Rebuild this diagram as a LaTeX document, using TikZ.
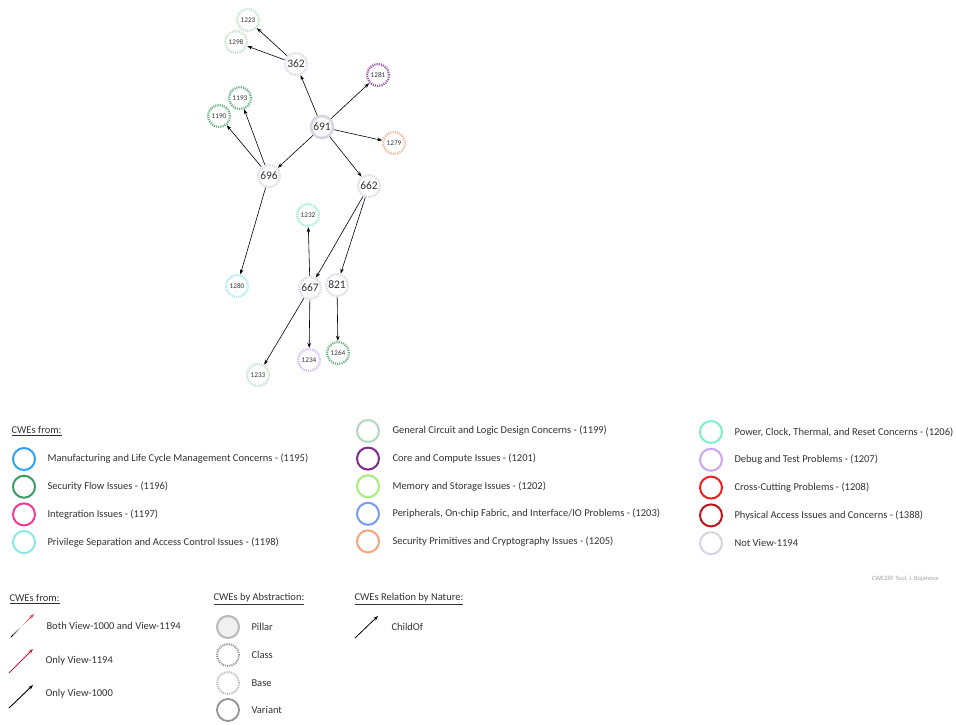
\documentclass[tikz,border=0pt]{standalone}
\usepackage{fontspec}
\setmainfont{Carlito}
\usepackage{tikz}
\usetikzlibrary{arrows.meta,positioning,calc}
% view-1194 category colours
\definecolor{cwe1195}{HTML}{2EA3F2}
\definecolor{cwe1196}{HTML}{3F9C64}
\definecolor{cwe1197}{HTML}{F03A98}
\definecolor{cwe1198}{HTML}{8CE6E6}
\definecolor{cwe1199}{HTML}{B2D8C0}
\definecolor{cwe1201}{HTML}{7E2A8E}
\definecolor{cwe1202}{HTML}{A4EE7C}
\definecolor{cwe1203}{HTML}{789CF2}
\definecolor{cwe1205}{HTML}{F4A47C}
\definecolor{cwe1206}{HTML}{7EEECC}
\definecolor{cwe1207}{HTML}{C8A6F2}
\definecolor{cwe1208}{HTML}{F01E1E}
\definecolor{cwe1388}{HTML}{BE161C}
\definecolor{notview}{HTML}{D6D6E0}
\definecolor{txtgray}{HTML}{333333}
\definecolor{view1194}{HTML}{C8203C}

\begin{document}
\begin{tikzpicture}[
    x=1pt,
    y=-1pt,
    font=\fontsize{10.5}{12}\selectfont,
    text=txtgray,
    cwe/.style={circle, minimum size=22pt, inner sep=0pt, fill=white},
    pillar/.style={cwe, draw=notview, line width=2.6pt, fill=gray!3, font=\fontsize{11.5}{12}\selectfont},
    classnode/.style={cwe, draw=#1, line width=2.2pt, dash pattern=on 1.1pt off 1.1pt, font=\fontsize{11.5}{12}\selectfont},
    basenode/.style={cwe, draw=#1!80!white, line width=2.2pt, dash pattern=on 1.1pt off 1.1pt, font=\fontsize{7.2}{8}\selectfont},
    childof/.style={-{Stealth[length=5pt,width=3.6pt]}, line width=0.6pt, black},
    ring/.style={circle, draw=#1, line width=2pt, minimum size=22pt, inner sep=0pt},
    keytext/.style={anchor=west},
    heading/.style={anchor=west}
  ]
    \useasboundingbox[fill=white] (0,0) rectangle (956,724);

    % the CWE tree
    \node[pillar] (n691) at (322,127) {691};
    \node[classnode=notview] (n362) at (296,64) {362};
    \node[classnode=notview] (n696) at (269,176) {696};
    \node[classnode=notview] (n662) at (369,186) {662};
    \node[classnode=notview] (n667) at (310,288) {667};
    \node[classnode=notview] (n821) at (337,285) {821};
    \node[basenode=cwe1199] (n1223) at (248,20) {1223};
    \node[basenode=cwe1199] (n1298) at (236,42) {1298};
    \node[basenode=cwe1201] (n1281) at (378,75) {1281};
    \node[basenode=cwe1205] (n1279) at (394,143) {1279};
    \node[basenode=cwe1196] (n1193) at (240,98) {1193};
    \node[basenode=cwe1196] (n1190) at (219,116) {1190};
    \node[basenode=cwe1206] (n1232) at (308,215) {1232};
    \node[basenode=cwe1198] (n1280) at (237,286) {1280};
    \node[basenode=cwe1207] (n1234) at (309,360) {1234};
    \node[basenode=cwe1196] (n1264) at (338,353) {1264};
    \node[basenode=cwe1199] (n1233) at (258,375) {1233};

    \foreach \a/\b in {n691/n362, n362/n1223, n362/n1298, n691/n1281, n691/n1279,
                       n691/n696, n691/n662, n696/n1190, n696/n1193, n696/n1280,
                       n662/n667, n662/n821, n667/n1232, n667/n1234, n667/n1233,
                       n821/n1264}
      \draw[childof] (\a) -- (\b);

    % category key
    \node[heading] (hdcat) at (8,431) {\underline{CWEs from:}};
    \foreach \clr/\txt [count=\i] in {
        cwe1195/{Manufacturing and Life Cycle Management Concerns - (1195)},
        cwe1196/{Security Flow Issues - (1196)},
        cwe1197/{Integration Issues - (1197)},
        cwe1198/{Privilege Separation and Access Control Issues - (1198)}} {
      \node[ring=\clr] (keya\i) at (24,{459+27.7*(\i-1)}) {};
      \node[keytext] (keyatext\i) at (44,{459+27.7*(\i-1)}) {\txt};
    }
    \foreach \clr/\txt [count=\i] in {
        cwe1199/{General Circuit and Logic Design Concerns - (1199)},
        cwe1201/{Core and Compute Issues - (1201)},
        cwe1202/{Memory and Storage Issues - (1202)},
        cwe1203/{Peripherals, On-chip Fabric, and Interface/IO Problems - (1203)},
        cwe1205/{Security Primitives and Cryptography Issues - (1205)}} {
      \node[ring=\clr] (keyb\i) at (368,{431+27.6*(\i-1)}) {};
      \node[keytext] (keybtext\i) at (389,{431+27.6*(\i-1)}) {\txt};
    }
    \foreach \clr/\txt [count=\i] in {
        cwe1206/{Power, Clock, Thermal, and Reset Concerns - (1206)},
        cwe1207/{Debug and Test Problems - (1207)},
        cwe1208/{Cross-Cutting Problems - (1208)},
        cwe1388/{Physical Access Issues and Concerns - (1388)},
        notview/{Not View-1194}} {
      \node[ring=\clr] (keyc\i) at (711,{432+27.8*(\i-1)}) {};
      \node[keytext] (keyctext\i) at (731,{432+27.8*(\i-1)}) {\txt};
    }
    \node[anchor=east, text=gray!70, font=\fontsize{6.5}{7}\selectfont] (credit) at (942,579) {CWE28F Tool, I. Bojanova};

    % view key
    \node[heading] (hdview) at (6,599) {\underline{CWEs from:}};
    \coordinate (bothA) at (11,637);
    \coordinate (bothB) at (34,614);
    \foreach \k in {0,...,4} {
      \pgfmathtruncatemacro{\mix}{25*\k}
      \draw[line width=0.9pt, color=white!\mix!black]
        ($(bothA)!\k/10!(bothB)$) -- ($(bothA)!\k/10+0.11!(bothB)$);
    }
    \foreach \k in {5,...,8} {
      \pgfmathtruncatemacro{\mix}{25*(\k-4)}
      \draw[line width=0.9pt, color=view1194!\mix!white]
        ($(bothA)!\k/10!(bothB)$) -- ($(bothA)!\k/10+0.11!(bothB)$);
    }
    \draw[-{Stealth[length=5pt,width=3.6pt]}, view1194!80!white, line width=0.9pt] ($(bothA)!0.9!(bothB)$) -- (bothB);
    \node[keytext] (bothtext) at (43,626) {Both View-1000 and View-1194};

    \coordinate (redA) at (9,673);
    \coordinate (redB) at (33,649);
    \draw[-{Stealth[length=5pt,width=3.6pt]}, view1194, line width=0.9pt] (redA) -- (redB);
    \node[keytext] (redtext) at (42,661) {Only View-1194};

    \coordinate (blkA) at (9,708);
    \coordinate (blkB) at (33,685);
    \draw[-{Stealth[length=5pt,width=3.6pt]}, black, line width=0.9pt] (blkA) -- (blkB);
    \node[keytext] (blktext) at (42,694) {Only View-1000};

    % abstraction key
    \node[heading] (hdabs) at (210,599) {\underline{CWEs by Abstraction:}};
    \node[cwe, draw=gray!55, line width=2pt, fill=gray!12] (abs1) at (228,627) {};
    \node[cwe, draw=gray!85, line width=2pt, dash pattern=on 1.1pt off 1.1pt] (abs2) at (228,655) {};
    \node[cwe, draw=gray!55, line width=2pt, dash pattern=on 1.1pt off 1.1pt] (abs3) at (228,683) {};
    \node[cwe, draw=gray!85, line width=1.8pt] (abs4) at (228,710) {};
    \node[keytext] (abs1text) at (248,627) {Pillar};
    \node[keytext] (abs2text) at (248,655) {Class};
    \node[keytext] (abs3text) at (248,683) {Base};
    \node[keytext] (abs4text) at (248,710) {Variant};

    % relation key
    \node[heading] (hdrel) at (351,599) {\underline{CWEs Relation by Nature:}};
    \coordinate (relA) at (355,638);
    \coordinate (relB) at (378,616);
    \draw[childof, line width=0.8pt] (relA) -- (relB);
    \node[keytext] (reltext) at (388,627) {ChildOf};
  \end{tikzpicture}
\end{document}
